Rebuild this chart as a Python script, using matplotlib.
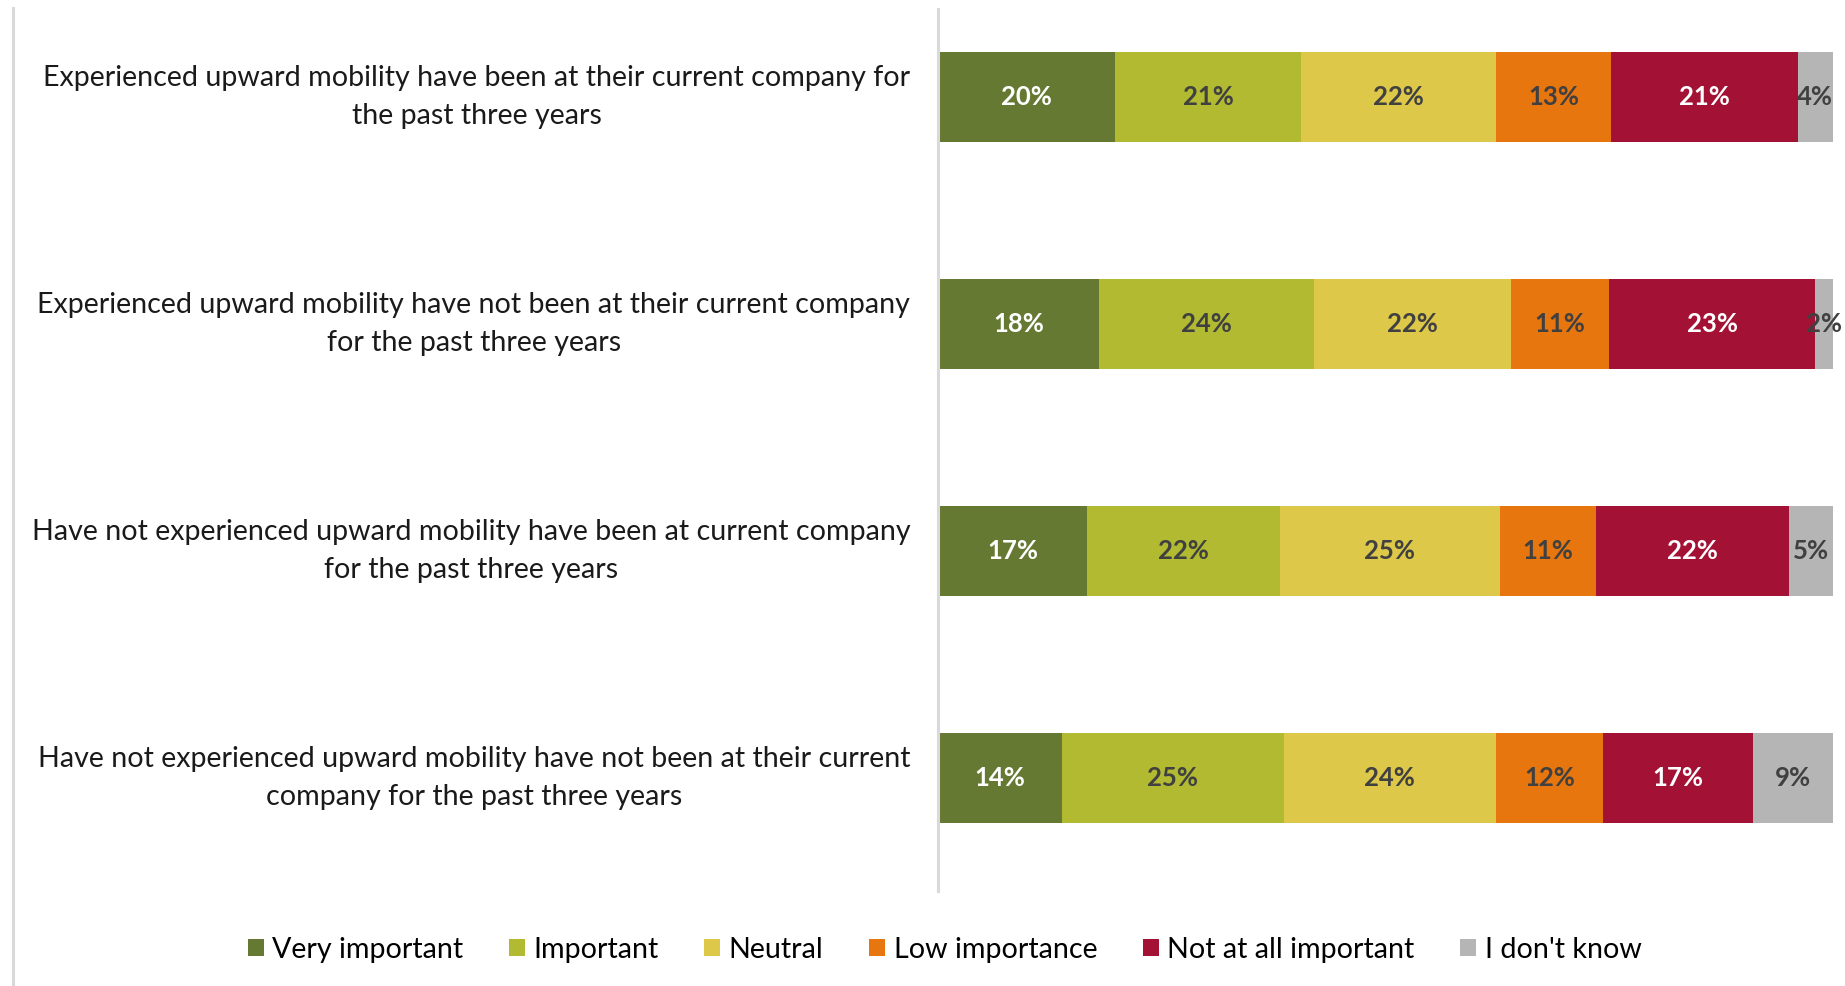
import numpy as np
import matplotlib.pyplot as plt
from matplotlib.patches import Patch
from matplotlib.lines import Line2D

plt.rcParams['font.family'] = ['Lato', 'DejaVu Sans']

# survey groups, top to bottom
groups = [
    'Experienced upward mobility have been at their current company for\nthe past three years',
    'Experienced upward mobility have not been at their current company\nfor the past three years',
    'Have not experienced upward mobility have been at current company\nfor the past three years',
    'Have not experienced upward mobility have not been at their current\ncompany for the past three years',
]
answers = ['Very important', 'Important', 'Neutral', 'Low importance',
           'Not at all important', "I don't know"]

# percent per answer, one list per answer (rows follow groups)
very_important = [20, 18, 17, 14]
important = [21, 24, 22, 25]
neutral = [22, 22, 25, 24]
low_importance = [13, 11, 11, 12]
not_at_all = [21, 23, 22, 17]
dont_know = [4, 2, 5, 9]

colors = ['#667932', '#B1BA31', '#DEC84A', '#E7760E', '#A31135', '#B5B5B5']
label_colors = ['white', '#404040', '#404040', '#404040', 'white', '#404040']

vals = np.array([very_important, important, neutral, low_importance,
                 not_at_all, dont_know], dtype=float)
# 100% stacked, so scale every row to its total
widths = vals / vals.sum(axis=0) * 100

fig = plt.figure(figsize=(18.45, 9.86), dpi=100)
ax = fig.add_axes([938/1845, 1 - 891/986, 895/1845, 882/986])

y = np.arange(len(groups))
left = np.zeros(len(groups))
for k in range(len(answers)):
    ax.barh(y, widths[k], left=left, height=0.396, color=colors[k], label=answers[k])
    for i in range(len(groups)):
        ax.text(left[i] + widths[k][i] / 2, y[i], f'{int(vals[k][i])}%',
                ha='center', va='center', fontsize=18.5, fontweight='bold',
                color=label_colors[k], clip_on=False)
    left += widths[k]

ax.set_xlim(0, 100)
ax.set_ylim(3.498, -0.388)
ax.set_xticks([])
ax.set_yticks(y, labels=groups)
for t in ax.get_yticklabels():
    t.set_multialignment('center')
    t.set_verticalalignment('center')
    t.set_fontsize(20.6)
    t.set_linespacing(1.55)
    t.set_color('#1a1a1a')
ax.tick_params(axis='y', length=0, pad=20)
for s in ['top', 'right', 'bottom']:
    ax.spines[s].set_visible(False)
ax.spines['left'].set_color('#D9D9D9')
ax.spines['left'].set_linewidth(2.2)

# thin frame line at the left edge of the chart area
fig.add_artist(Line2D([12.5/1845, 12.5/1845], [0, 1 - 8/986],
                      transform=fig.transFigure, color='#D9D9D9', lw=2.2))

handles = [Patch(facecolor=c, edgecolor='none') for c in colors]
fig.legend(handles, answers, loc='center', bbox_to_anchor=(0.512, 0.037),
           ncol=6, frameon=False, fontsize=20.6, handlelength=0.55,
           handleheight=0.55, handletextpad=0.3, columnspacing=1.6)

fig.savefig('out.png', dpi=100)
